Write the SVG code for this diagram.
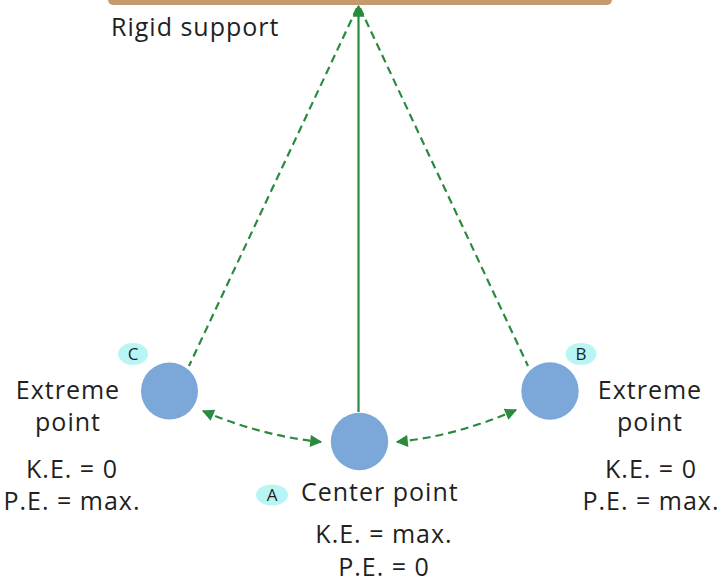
<svg xmlns="http://www.w3.org/2000/svg" width="722" height="583" viewBox="0 0 722 583">
<style>
text{font-family:"Open Sans","Liberation Sans",sans-serif;font-size:25px;letter-spacing:1px;fill:#231f20}
.ball{fill:#7ba7d9}
.badge{fill:#b8f5f5}
.bl{font-size:17px;letter-spacing:0}
.dash{stroke:#2a8a3e;stroke-width:2.2;fill:none;stroke-dasharray:8,5}
</style>
<defs>
<marker id="ah2" viewBox="0 0 10 10" refX="9" refY="5" markerWidth="14" markerHeight="12" markerUnits="userSpaceOnUse" orient="auto-start-reverse">
<path d="M0,0 L10,5 L0,10 z" fill="#2a8a3e"/>
</marker>
</defs>
<g id="support">
<rect x="108" y="-10" width="504" height="15" rx="5" fill="#c69a6c"/>
<text x="111" y="36">Rigid support</text>
</g>
<g id="connectors">
<line x1="358.5" y1="412" x2="358.5" y2="6" stroke="#2a8a3e" stroke-width="2.2" marker-end="url(#ah2)"/>
<line class="dash" x1="357" y1="8" x2="189" y2="366"/>
<line class="dash" x1="360" y1="8" x2="528" y2="366"/>
<path class="dash" d="M203,411 Q262,436 321,442" marker-start="url(#ah2)" marker-end="url(#ah2)"/>
<path class="dash" d="M397,442 Q456,436 516,410" marker-start="url(#ah2)" marker-end="url(#ah2)"/>
</g>
<g id="nodeC">
<ellipse class="badge" cx="133" cy="354" rx="15" ry="11"/>
<text class="bl" x="133" y="360" text-anchor="middle">C</text>
<circle class="ball" cx="169.5" cy="391" r="28.5"/>
<text x="68" y="399" text-anchor="middle">Extreme</text>
<text x="68" y="431" text-anchor="middle">point</text>
<text x="72" y="478" text-anchor="middle">K.E. = 0</text>
<text x="72" y="510" text-anchor="middle">P.E. = max.</text>
</g>
<g id="nodeA">
<circle class="ball" cx="359.5" cy="441.5" r="28.7"/>
<ellipse class="badge" cx="272" cy="495" rx="16" ry="10.5"/>
<text class="bl" x="272" y="501" text-anchor="middle">A</text>
<text x="301" y="501">Center point</text>
<text x="384" y="543" text-anchor="middle">K.E. = max.</text>
<text x="384" y="576" text-anchor="middle">P.E. = 0</text>
</g>
<g id="nodeB">
<ellipse class="badge" cx="581" cy="354" rx="15.5" ry="11"/>
<text class="bl" x="581" y="360" text-anchor="middle">B</text>
<circle class="ball" cx="550" cy="391" r="28.7"/>
<text x="650" y="399" text-anchor="middle">Extreme</text>
<text x="650" y="431" text-anchor="middle">point</text>
<text x="651" y="478" text-anchor="middle">K.E. = 0</text>
<text x="651" y="510" text-anchor="middle">P.E. = max.</text>
</g>
</svg>
